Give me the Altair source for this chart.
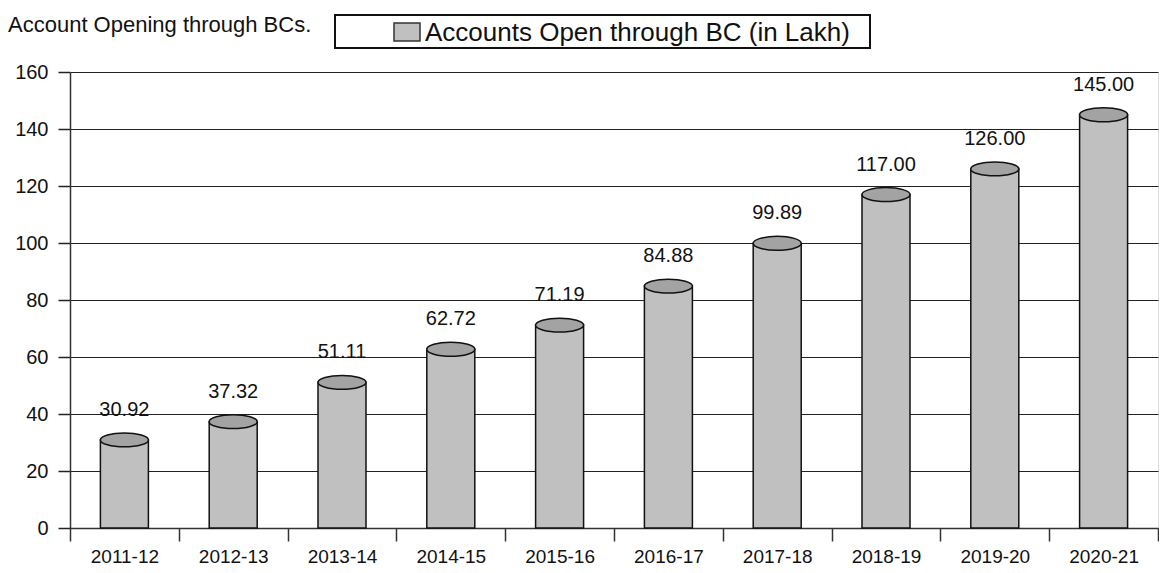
import altair as alt
import pandas as pd

years = ["2011-12", "2012-13", "2013-14", "2014-15", "2015-16",
         "2016-17", "2017-18", "2018-19", "2019-20", "2020-21"]
values = [30.92, 37.32, 51.11, 62.72, 71.19, 84.88, 99.89, 117.00, 126.00, 145.00]
y_ticks = [0, 20, 40, 60, 80, 100, 120, 140, 160]
legend_label = "Accounts Open through BC (in Lakh)"
title_text = "Account Opening through BCs."

df = pd.DataFrame({"year": years, "value": values})
one = pd.DataFrame({"k": [0]})

FONT = "Liberation Sans"
INK = "#111111"

x = alt.X(
    "year:N", sort=years,
    scale=alt.Scale(paddingInner=0, paddingOuter=0),
    axis=alt.Axis(title=None, labelAngle=0, labelFontSize=19, labelFont=FONT,
                  labelColor=INK, tickBand="extent", tickSize=13, tickColor="#333",
                  domainColor="#333", domainWidth=1.5, tickWidth=1.5,
                  labelPadding=6, grid=False),
)
y = alt.Y(
    "value:Q",
    scale=alt.Scale(domain=[0, 160], nice=False),
    axis=alt.Axis(title=None, values=y_ticks, tickSize=12, labelFontSize=20,
                  labelFont=FONT, labelColor=INK, labelPadding=10,
                  grid=True, gridColor="#222", gridWidth=1,
                  domainColor="#333", domainWidth=1.5, tickColor="#222", tickWidth=1.5),
)

base = alt.Chart(df)

bars = base.mark_bar(size=48, fill="#c0c0c0", stroke=INK, strokeWidth=1.5).encode(x=x, y=y)

ellipse = ("M-1,0C-1,-0.16,-0.5523,-0.29,0,-0.29C0.5523,-0.29,1,-0.16,1,0"
           "C1,0.16,0.5523,0.29,0,0.29C-0.5523,0.29,-1,0.16,-1,0Z")
tops = base.mark_point(shape=ellipse, size=2304, filled=True, fill="#a3a3a3",
                       stroke=INK, strokeWidth=1.5, opacity=1,
                       fillOpacity=1, strokeOpacity=1).encode(x=x, y=y)

labels = base.mark_text(dy=-30, fontSize=20, font=FONT, color=INK,
                        baseline="middle").encode(
    x=x, y=y, text=alt.Text("value:Q", format=".2f"))

# legend box (drawn by hand)
leg_box = alt.Chart(one).mark_rect(fill="white", stroke=INK, strokeWidth=2).encode(
    x=alt.value(265), x2=alt.value(800), y=alt.value(-57), y2=alt.value(-24))
leg_sw = alt.Chart(one).mark_rect(fill="#c0c0c0", stroke="#333", strokeWidth=1.5).encode(
    x=alt.value(324), x2=alt.value(350), y=alt.value(-49), y2=alt.value(-31))
leg_tx = alt.Chart(one).mark_text(align="left", baseline="middle", fontSize=26,
                                  font=FONT, color=INK).encode(
    x=alt.value(355), y=alt.value(-39), text=alt.value(legend_label))

title = alt.Chart(one).mark_text(align="left", baseline="alphabetic", fontSize=22,
                                 font=FONT, color=INK).encode(
    x=alt.value(-62), y=alt.value(-40), text=alt.value(title_text))

chart = alt.layer(bars, tops, labels, leg_box, leg_sw, leg_tx, title).properties(
    width=1088, height=456,
    autosize=alt.AutoSizeParams(type="none"),
    padding={"left": 62, "top": 64, "right": 1, "bottom": 37},
).configure_view(stroke=None).configure(background="white")

chart.save("out.html", embed_options={"renderer": "svg", "actions": False})
